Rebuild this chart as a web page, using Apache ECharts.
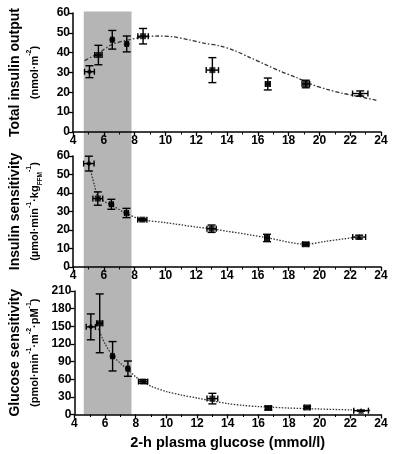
<!DOCTYPE html>
<html><head><meta charset="utf-8">
<script src="https://cdn.jsdelivr.net/npm/echarts@6/dist/echarts.min.js"></script>
<style>html,body{margin:0;padding:0;background:#fff}#c{width:394px;height:454px}</style>
</head><body><div id="c"></div>
<script>
// ---- data ----
var xTicks = [4, 24, 2];
var shadeRange = [4.7, 7.8];

// Panel 1: total insulin output
var ioX    = [5.07, 5.65, 6.55, 7.49, 8.55, 13.05, 16.65, 19.12, 22.65];
var ioY    = [30.4, 38.8, 46.5, 44.4, 48.3, 31.2, 24.2, 24.2, 19.4];
var ioXErr = [0.32, 0.24, 0.1, 0.1, 0.34, 0.4, 0.15, 0.25, 0.5];
var ioYErr = [3, 4.9, 4.7, 4, 3.9, 6.3, 3, 1.9, 1.3];
var ioFitX = [4.75, 5.2, 5.65, 6.5, 7.5, 8.5, 9.5, 10.5, 11.5, 12.5, 13.5, 14.5, 15.5, 16.5, 17.5, 18.5, 19.5, 20.5, 21.5, 22.5, 23.7];
var ioFitY = [36, 37.8, 39.7, 44, 46.3, 47.8, 48.4, 48, 46.5, 44.8, 43.5, 41, 37.5, 34, 30.5, 27.5, 24, 21.5, 19.5, 18, 16];

// Panel 2: insulin sensitivity
var isX    = [5.03, 5.61, 6.49, 7.47, 8.5, 13.0, 16.6, 19.11, 22.58];
var isY    = [55.9, 37, 33.9, 29.2, 25.6, 20.7, 15.7, 12.3, 16.2];
var isXErr = [0.34, 0.32, 0.12, 0.12, 0.3, 0.3, 0.15, 0.2, 0.42];
var isYErr = [4, 3.6, 2.7, 2.5, 0.6, 2, 2, 0.8, 1];
var isFitX = [5.15, 5.4, 5.65, 6.5, 7.5, 8.5, 10, 12, 13.05, 16.6, 19.1, 20.5, 22.5];
var isFitY = [52, 44, 37.5, 33.5, 28.8, 25.6, 24, 21.6, 20.6, 15.8, 12.3, 14, 16.2];

// Panel 3: glucose sensitivity
var gsX    = [5.07, 5.65, 6.49, 7.49, 8.48, 13.0, 16.65, 19.18, 22.7];
var gsY    = [149, 155, 99, 78, 56, 27, 11, 12, 6.5];
var gsXErr = [0.3, 0.2, 0.1, 0.1, 0.3, 0.35, 0.2, 0.2, 0.48];
var gsYErr = [22, 50, 25, 13, 3, 9, 3, 2, 1];
var gsFitX = [5.55, 6, 6.5, 7, 7.5, 8, 8.5, 9, 10, 11, 12, 13, 14, 15, 16, 18, 20, 22, 23.3];
var gsFitY = [146, 120, 100, 87, 76, 64, 55, 48, 39, 33, 28, 23, 18.5, 15.5, 13.5, 11, 9.3, 7.8, 6.8];

var symbols = ['diamond', 'rect', 'circle', 'circle', 'rect', 'rect', 'rect', 'rect', 'triangle'];

// ---- chart ----
var FONT = 'Liberation Sans, Arial, sans-serif';
var chart = echarts.init(document.getElementById('c'), null, {renderer: 'canvas'});

var grids = [
  {left: 70, right: 13, top: 13, height: 119},
  {left: 70, right: 13, top: 156, height: 111},
  {left: 70, right: 13, top: 291, height: 123.5}
];

function xAxis(i, withName) {
  return {
    gridIndex: i, type: 'value', min: xTicks[0], max: xTicks[1], interval: xTicks[2],
    axisLine: {lineStyle: {color: '#000', width: 1.5}},
    axisTick: {length: 4, lineStyle: {color: '#000', width: 1.3}},
    minorTick: {show: true, splitNumber: 2, length: 2.5, lineStyle: {color: '#000', width: 1}},
    splitLine: {show: false},
    axisLabel: {color: '#000', fontFamily: FONT, fontWeight: 'bold', fontSize: 12, margin: 3},
    name: withName ? '2-h plasma glucose (mmol/l)' : '',
    nameLocation: 'middle', nameGap: 21,
    nameTextStyle: {color: '#000', fontFamily: FONT, fontWeight: 'bold', fontSize: 14.5}
  };
}

var richBase = {
  t: {fontFamily: FONT, fontWeight: 'bold', fontSize: 14, lineHeight: 22, color: '#000'},
  u: {fontFamily: FONT, fontWeight: 'bold', fontSize: 11, lineHeight: 18, color: '#000'},
  s: {fontFamily: FONT, fontWeight: 'bold', fontSize: 7, lineHeight: 8, verticalAlign: 'top', color: '#000'},
  b: {fontFamily: FONT, fontWeight: 'bold', fontSize: 6.5, lineHeight: 8, verticalAlign: 'bottom', color: '#000'}
};

function yAxis(i, max, interval, name) {
  return {
    gridIndex: i, type: 'value', min: 0, max: max, interval: interval,
    axisLine: {show: true, lineStyle: {color: '#000', width: 1.5}},
    axisTick: {show: true, length: 4, lineStyle: {color: '#000', width: 1.3}},
    splitLine: {show: false},
    axisLabel: {color: '#000', fontFamily: FONT, fontWeight: 'bold', fontSize: 12, margin: 3},
    name: name, nameLocation: 'middle', nameGap: 29, nameRotate: 90,
    nameTextStyle: {rich: richBase}
  };
}

function errSeries(i, xs, ys, xe, ye) {
  var data = xs.map(function (x, k) { return [x, ys[k], xe[k], ye[k]]; });
  return {
    type: 'custom', xAxisIndex: i, yAxisIndex: i, z: 4, data: data,
    renderItem: function (params, api) {
      var x = api.value(0), y = api.value(1), dx = api.value(2), dy = api.value(3);
      var top = api.coord([x, y + dy]), bot = api.coord([x, y - dy]);
      var lft = api.coord([x - dx, y]), rgt = api.coord([x + dx, y]);
      var st = {stroke: '#000', lineWidth: 1.4};
      var cw = 4, ch = 3;
      var ch_ = [];
      ch_.push({type: 'line', shape: {x1: top[0], y1: top[1], x2: bot[0], y2: bot[1]}, style: st});
      ch_.push({type: 'line', shape: {x1: top[0] - cw, y1: top[1], x2: top[0] + cw, y2: top[1]}, style: st});
      ch_.push({type: 'line', shape: {x1: bot[0] - cw, y1: bot[1], x2: bot[0] + cw, y2: bot[1]}, style: st});
      ch_.push({type: 'line', shape: {x1: lft[0], y1: lft[1], x2: rgt[0], y2: rgt[1]}, style: st});
      ch_.push({type: 'line', shape: {x1: lft[0], y1: lft[1] - ch, x2: lft[0], y2: lft[1] + ch}, style: st});
      ch_.push({type: 'line', shape: {x1: rgt[0], y1: rgt[1] - ch, x2: rgt[0], y2: rgt[1] + ch}, style: st});
      return {type: 'group', children: ch_};
    }
  };
}

function pointSeries(i, xs, ys) {
  return {
    type: 'scatter', xAxisIndex: i, yAxisIndex: i, z: 5,
    data: xs.map(function (x, k) { return {value: [x, ys[k]], symbol: symbols[k]}; }),
    symbolSize: 6, itemStyle: {color: '#000'}
  };
}

function fitSeries(i, xs, ys, dash) {
  return {
    type: 'line', xAxisIndex: i, yAxisIndex: i, z: 3, smooth: 0.3, showSymbol: false, symbol: 'none',
    data: xs.map(function (x, k) { return [x, ys[k]]; }),
    lineStyle: {color: '#333', width: 1.3, type: dash}
  };
}

chart.setOption({
  animation: false,
  backgroundColor: '#fff',
  grid: grids,
  xAxis: [xAxis(0, false), xAxis(1, false), xAxis(2, true)],
  yAxis: [
    yAxis(0, 60, 10, '{t|Total insulin output}\n{u|(nmol·m}{s|-2}{u|)}'),
    yAxis(1, 60, 10, '{t|Insulin sensitivity}\n{u|(µmol·min}{s|-1}{u|·kg}{b|FFM}{s|-1}{u|)}'),
    yAxis(2, 210, 30, '{t|Glucose sensitivity}\n{u|(pmol·min}{s|-1}{u|·m}{s|-2}{u|·pM}{s|-1}{u|)}')
  ],
  series: [
    fitSeries(0, ioFitX, ioFitY, [4, 2, 1.5, 2]),
    errSeries(0, ioX, ioY, ioXErr, ioYErr),
    pointSeries(0, ioX, ioY),
    fitSeries(1, isFitX, isFitY, [1.5, 1.5]),
    errSeries(1, isX, isY, isXErr, isYErr),
    pointSeries(1, isX, isY),
    fitSeries(2, gsFitX, gsFitY, [1.5, 1.5]),
    errSeries(2, gsX, gsY, gsXErr, gsYErr),
    pointSeries(2, gsX, gsY)
  ]
});

// shaded glucose range spanning all three panels
var sx0 = chart.convertToPixel({xAxisIndex: 0}, shadeRange[0]);
var sx1 = chart.convertToPixel({xAxisIndex: 0}, shadeRange[1]);
var syTop = chart.convertToPixel({yAxisIndex: 0}, 60);
var syBot = chart.convertToPixel({yAxisIndex: 2}, 0);
chart.setOption({
  graphic: [{
    type: 'rect', z: -10, silent: true,
    shape: {x: sx0, y: syTop - 1.5, width: sx1 - sx0, height: syBot - syTop + 1.5},
    style: {fill: '#b5b5b5'}
  }]
});
</script>
</body></html>
